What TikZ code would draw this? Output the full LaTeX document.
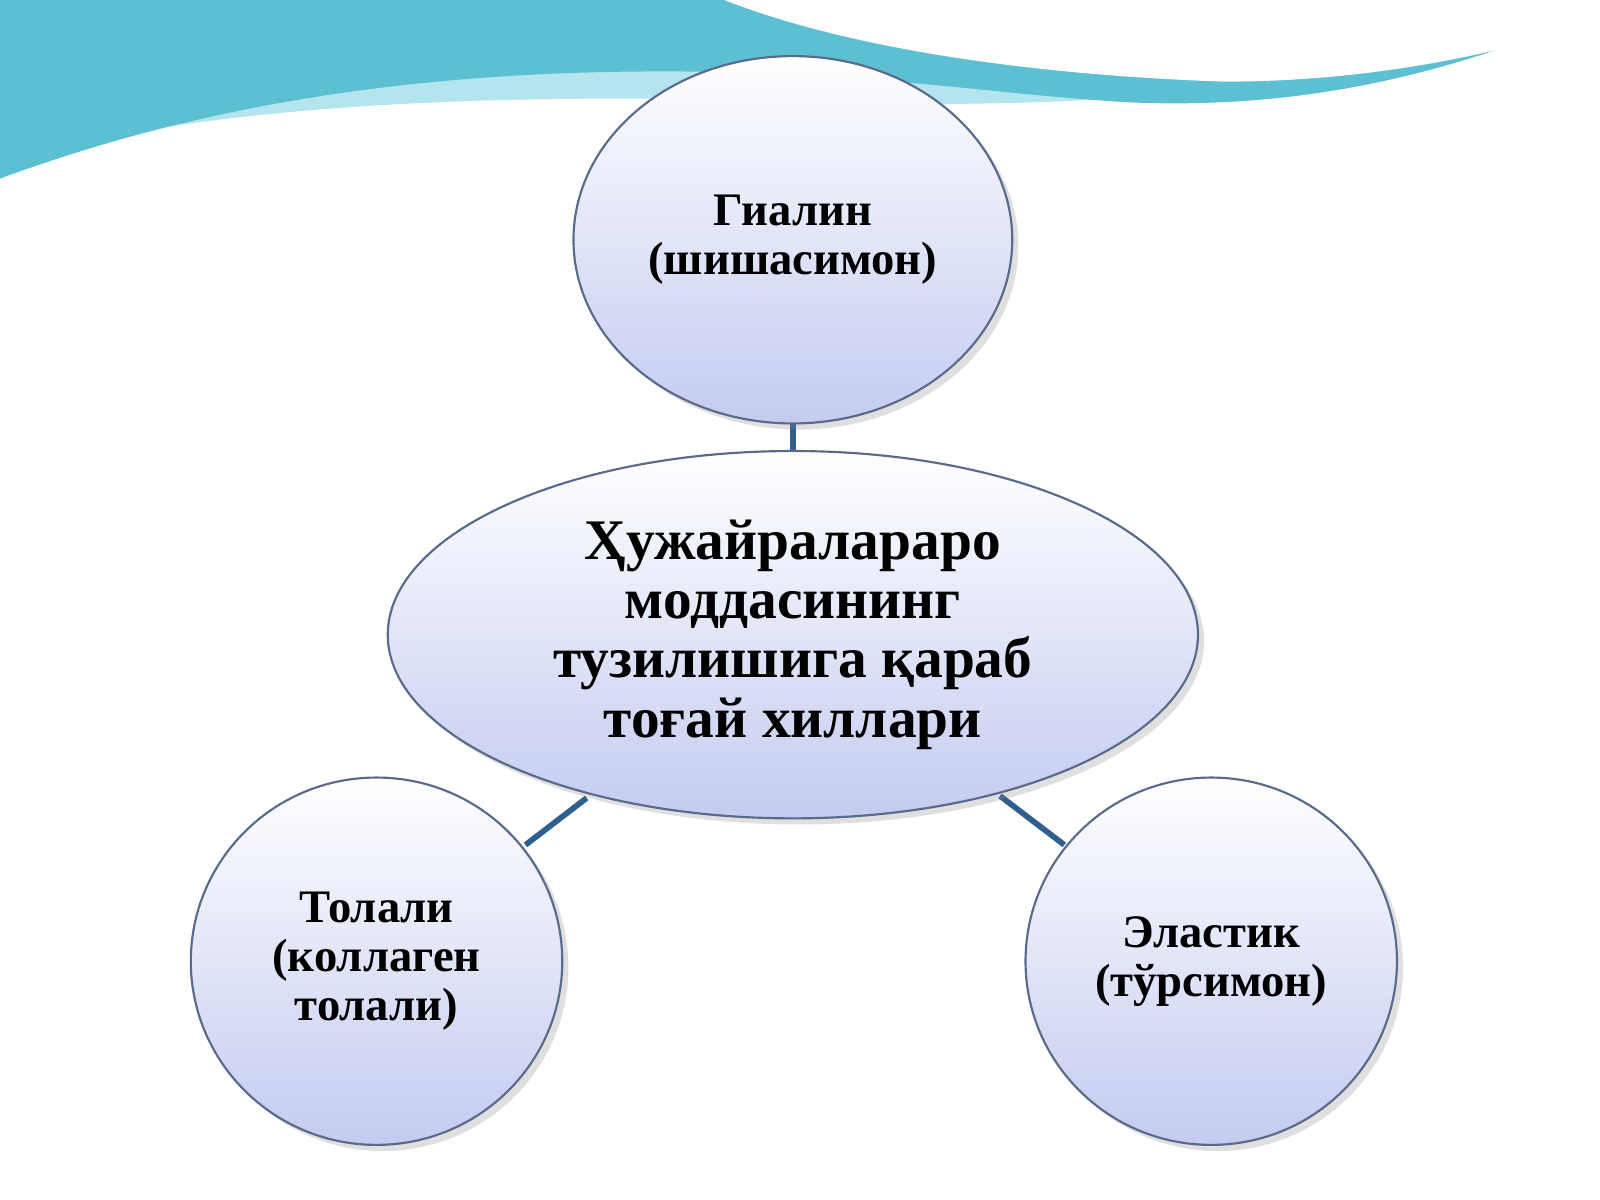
\documentclass[tikz,border=0pt]{standalone}
\usepackage{fontspec}
\setmainfont{Liberation Serif}
\usetikzlibrary{shadows,shapes.geometric}
\definecolor{wavedark}{HTML}{5CC0D2}
\definecolor{wavelight}{HTML}{B4E4EE}
\definecolor{ballfill}{HTML}{C3CBF0}
\definecolor{balledge}{HTML}{5A6A8A}
\definecolor{linkblue}{HTML}{2F5F8F}
\tikzset{
  ball/.style={ellipse, draw=balledge, line width=0.6pt, top color=white, bottom color=ballfill,
    drop shadow={opacity=0.25, shadow xshift=0.06cm, shadow yshift=-0.06cm},
    align=center, font=\bfseries, inner sep=0pt},
  link/.style={draw=linkblue, line width=1.6pt}
}
\begin{document}
\begin{tikzpicture}
  \useasboundingbox (0,0) rectangle (15.68,-11.76);
  % Wave background
  \fill[wavelight] (0,0) -- (0,-1.6) .. controls (2,-1.0) and (5,-0.9) .. (8,-1.0)
    .. controls (11,-1.1) and (13.5,-0.8) .. (15.68,-0.2) -- (15.68,0) -- cycle;
  \fill[wavedark] (0,0) -- (0,-1.75) .. controls (1.5,-1.2) and (3.5,-0.7) .. (6.5,-0.7)
    .. controls (8.5,-0.7) and (9.5,-0.9) .. (11,-1.0) .. controls (13,-1.1) and (14.5,-0.6) .. (15.68,-0.1)
    -- (15.68,0) -- (7.2,0) .. controls (8,-0.5) and (10,-0.8) .. (11.5,-0.85)
    .. controls (10,-0.5) and (9,-0.3) .. (8.2,0) -- cycle;
  \fill[white] (7.1,0) .. controls (8.5,-0.55) and (10.5,-0.75) .. (12,-0.8)
    .. controls (13.5,-0.8) and (14.8,-0.5) .. (15.68,-0.2) -- (15.68,0) -- cycle;
  % Links
  \coordinate (t) at (7.77,-4.15);
  \coordinate (l) at (5.15,-8.28);
  \coordinate (r) at (10.43,-8.28);
  \coordinate (ct) at (7.77,-4.43);
  \coordinate (cl) at (5.75,-7.82);
  \coordinate (cr) at (9.80,-7.80);
  \draw[link] (t) -- (ct);
  \draw[link] (cl) -- (l);
  \draw[link] (cr) -- (r);
  % Nodes
  \node (center) [ball, minimum width=7.94cm, minimum height=3.6cm, font=\bfseries\fontsize{16}{16.5}\selectfont] at (7.77,-6.22)
    {Ҳужайралараро\\моддасининг\\тузилишига қараб\\тоғай хиллари};
  \node (hyalin) [ball, minimum width=4.3cm, minimum height=3.6cm, font=\bfseries\fontsize{13}{13.6}\selectfont] at (7.77,-2.35)
    {Гиалин\\(шишасимон)};
  \node (fibrous) [ball, minimum width=3.64cm, minimum height=3.6cm, font=\bfseries\fontsize{13}{13.6}\selectfont] at (3.69,-9.42)
    {Толали\\(коллаген\\толали)};
  \node (elastic) [ball, minimum width=3.64cm, minimum height=3.6cm, font=\bfseries\fontsize{13}{13.6}\selectfont] at (11.87,-9.42)
    {Эластик\\(тўрсимон)};
\end{tikzpicture}
\end{document}
